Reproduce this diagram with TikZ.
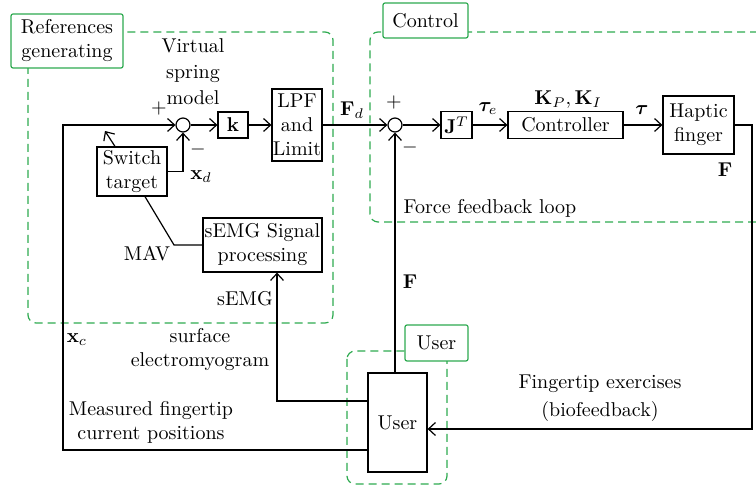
\documentclass[tikz,border=0pt]{standalone}
\usepackage{amsmath,bm}
\usepackage{xcolor}
\usepackage{tikz}
\usetikzlibrary{arrows.meta, positioning}
\definecolor{zonegreen}{RGB}{46,170,80}

\tikzset{
  block/.style={draw, line width=0.6pt, fill=white, align=center, inner sep=0pt},
  sumnode/.style={draw, circle, line width=0.6pt, minimum size=7pt, inner sep=0pt},
  tagbox/.style={draw=zonegreen, line width=0.6pt, fill=white, align=center, rounded corners=1pt, inner sep=0pt},
  zone/.style={draw=zonegreen, line width=0.6pt, dash pattern=on 4pt off 2.5pt, rounded corners=4pt},
  wire/.style={line width=0.6pt},
  lbl/.style={inner sep=0pt, align=center}
}

\begin{document}
\begin{tikzpicture}[x=0.5pt, y=-0.5pt, >={Straight Barb[length=3.5pt,width=6.5pt]}, font=\fontsize{10}{12}\selectfont]
\useasboundingbox (0,0) rectangle (756,486);
% Zonas
\draw[zone] (28,32) rectangle (333,323);
\draw[zone] (756,222) -- (370,222) -- (370,32) -- (756,32);
\draw[zone] (347,351) rectangle (447,484);
\node[tagbox, minimum width=56pt, minimum height=27pt] (refs) at (67,41) {References\\generating};
\node[tagbox, minimum width=42.5pt, minimum height=17.5pt] (control) at (425.5,20.5) {Control};
\node[tagbox, minimum width=31.5pt, minimum height=18pt] (userzone) at (436.5,343) {User};
% Bloques
\node[sumnode] (s1) at (183,125) {};
\node[block, minimum width=15pt, minimum height=13pt] (k) at (233,125) {$\mathbf{k}$};
\node[block, minimum width=25pt, minimum height=36pt] (lpf) at (297,125) {LPF\\and\\Limit};
\node[sumnode] (s2) at (395,125) {};
\node[block, minimum width=15.5pt, minimum height=13.5pt] (jt) at (456.5,125) {$\mathbf{J}^T$};
\node[block, minimum width=57.5pt, minimum height=13.5pt] (ctrl) at (565.5,125) {Controller};
\node[block, minimum width=35.5pt, minimum height=29pt] (haptic) at (698.5,125) {Haptic\\finger};
\node[block, minimum width=29.5pt, minimum height=49.5pt] (user) at (397.5,422.5) {User};
\node[block, minimum width=59.5pt, minimum height=27pt] (semg) at (262.5,245) {sEMG Signal\\processing};
\node[block, minimum width=35pt, minimum height=24.5pt] (switch) at (132,171.5) {Switch\\target};
\coordinate (xc) at (63,450);
\coordinate (mav) at (174,245);
\coordinate (swtip) at (105,131);
\coordinate (fb) at (752,429);
% Conexiones
\path[wire, ->]
(s1) edge (k)
(k) edge (lpf)
(lpf) edge (s2)
(s2) edge (jt)
(jt) edge (ctrl)
(ctrl) edge (haptic);
\draw[wire, ->] (haptic.east) -| (fb) -- (user.east |- fb);
\draw[wire, ->] (user.north -| s2) -- (s2.south);
\draw[wire, ->] (user.west |- 0,401) -| ([xshift=7.25pt]semg.south);
\draw[wire] (semg.west) -- (mav) -- ([xshift=6.5pt]switch.south);
\draw[wire, ->] (switch.east) -| (s1.south);
\draw[wire, ->] ([xshift=-8.5pt]switch.north) -- (swtip);
\draw[wire, ->] (user.west |- xc) -- (xc) |- (s1.west);
% Etiquetas
\node[lbl] (vsm) at (193,72) {Virtual\\[1pt]spring\\[1pt]model};
\node[lbl] (plus1) at (159,109) {$+$};
\node[lbl] (minus1) at (198,150) {$-$};
\node[lbl] (xd) at (201,177) {$\mathbf{x}_d$};
\node[lbl] (fd) at (352,110) {$\mathbf{F}_d$};
\node[lbl] (plus2) at (394,103) {$+$};
\node[lbl] (minus2) at (410,148) {$-$};
\node[lbl] (taue) at (488,109) {$\bm{\tau}_e$};
\node[lbl] (gains) at (568,100) {$\mathbf{K}_P,\mathbf{K}_I$};
\node[lbl] (tau) at (642,110) {$\bm{\tau}$};
\node[lbl] (fout) at (725,170) {$\mathbf{F}$};
\node[lbl] (ffl) at (490,208) {Force feedback loop};
\node[lbl] (fin) at (410,282) {$\mathbf{F}$};
\node[lbl] (bio) at (600,398) {Fingertip exercises\\[2pt](biofeedback)};
\node[lbl] (semglbl) at (245,299) {sEMG};
\node[lbl] (mavlbl) at (147,254) {MAV};
\node[lbl] (xclbl) at (77,340) {$\mathbf{x}_c$};
\node[lbl] (surf) at (200,350) {surface\\electromyogram};
\node[lbl] (meas) at (151,422) {Measured fingertip\\current positions};
\end{tikzpicture}
\end{document}
